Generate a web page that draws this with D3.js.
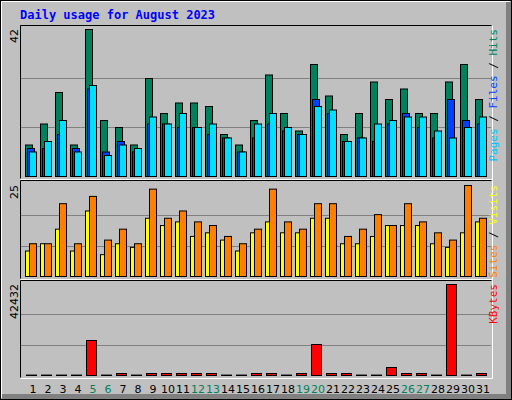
<!DOCTYPE html>
<html><head><meta charset="utf-8">
<script src="https://cdn.jsdelivr.net/npm/d3@7"></script>
<style>body{margin:0;background:#fff}</style></head>
<body><svg id="c" width="512" height="400"></svg>
<script>
const days = d3.range(1,32);
const weekend = [5,6,12,13,19,20,26,27];
const hits  = [9,15,24,9,42,16,14,9,28,18,21,21,20,12,9,16,29,18,13,32,23,12,18,27,22,25,18,18,27,32,22];
const files = [8,8,12,8,25,7,10,7,15,15,14,14,12,11,7,11,15,13,12,22,18,10,11,10,15,18,14,11,22,16,15];
const pages = [7,10,16,7,26,6,9,8,17,15,18,14,15,11,7,15,18,14,12,20,19,10,11,15,16,17,17,13,11,14,17];
const sites = [7,9,13,7,18,6,9,8,16,14,15,11,12,10,7,12,15,12,12,16,16,9,9,11,14,14,14,9,8,12,15];
const visits= [9,9,20,9,22,10,13,9,24,16,18,15,14,11,9,13,24,15,13,20,20,11,13,17,14,20,15,12,10,25,16];
const kbytes= [200,200,200,200,16320,200,930,200,930,930,930,930,930,200,200,930,930,200,930,14455,930,930,200,200,3730,930,930,200,42432,200,930];
const maxTop=42, maxMid=25, maxKb=42432;

const svg=d3.select("#c");
svg.append("rect").attr("x",0).attr("y",0).attr("width",512).attr("height",400).attr("fill","#c0c0c0");
svg.append("rect").attr("x",0.5).attr("y",0.5).attr("width",511).attr("height",399).attr("fill","none").attr("stroke","#000");
svg.append("path").attr("d","M1.5,397.5V1.5H509.5").attr("fill","none").attr("stroke","#fff");
svg.append("path").attr("d","M2,396.5H508.5V2").attr("fill","none").attr("stroke","#808080").attr("stroke-width",5);
svg.append("rect").attr("x",0.5).attr("y",0.5).attr("width",511).attr("height",399).attr("fill","none").attr("stroke","#000");

svg.append("text").attr("x",20).attr("y",19).text("Daily usage for August 2023")
  .attr("font-family","'DejaVu Sans Mono','Liberation Mono',monospace").attr("font-weight","bold")
  .attr("font-size",12).attr("fill","#0000ff");

const x=d3.scaleLinear().domain([1,32]).range([25,490]);
function panel(y0,y1){
  svg.append("rect").attr("x",20).attr("y",y0).attr("width",471).attr("height",y1-y0).attr("fill","#c0c0c0");
  svg.append("path").attr("d",`M20.5,${y1+0.5}V${y0+0.5}H491.5`).attr("stroke","#000").attr("fill","none");
  svg.append("path").attr("d",`M20.5,${y1+1.5}H492.5V${y0+0.5}`).attr("stroke","#fff").attr("fill","none");
}
function grid(y,base,top){
  [1/3,2/3].forEach(f=>{const yy=Math.round(base-(base-top)*f)+0.5;
    svg.append("line").attr("x1",21).attr("x2",491).attr("y1",yy).attr("y2",yy).attr("stroke","#808080");});
}
function bars(data,scale,dx,w,color){
  svg.append("g").selectAll("rect").data(data).join("rect")
    .attr("x",(d,i)=>x(i+1)+dx+0.5).attr("width",w)
    .attr("y",d=>scale(d)+0.5).attr("height",d=>Math.max(0,scale(0)-scale(d)))
    .attr("fill",color).attr("stroke","#000");
}
function leftLabel(txt,y){
  svg.append("text").attr("transform",`translate(18,${y}) rotate(-90)`).attr("text-anchor","end")
   .attr("font-family","'DejaVu Sans',sans-serif").attr("font-size",11).attr("fill","#000").text(txt);
}
function rightLabel(parts,y){
  const t=svg.append("text").attr("transform",`translate(496,${y}) rotate(90)`).attr("text-anchor","end")
   .attr("font-family","'DejaVu Sans Mono',monospace").attr("font-size",11);
  parts.forEach(p=>t.append("tspan").attr("fill",p[1]).text(p[0]));
  t.attr("transform",`translate(497,${y}) rotate(-90)`);
}

// top
panel(25,178);
const yT=d3.scaleLinear().domain([0,maxTop]).range([176,29]);
grid(0,176,29);
bars(hits,yT,0,7,"#00805c");
bars(files,yT,2,7,"#0040ff");
bars(pages,yT,4,7,"#00e0ff");
leftLabel("42",29);
rightLabel([["Pages","#00c0ff"],[" / ","#000"],["Files","#0040ff"],[" / ","#000"],["Hits","#00805c"]],29);

// middle
panel(180,278);
const yM=d3.scaleLinear().domain([0,maxMid]).range([276,185]);
grid(0,276,185);
bars(sites,yM,0,4,"#ffff00");
bars(visits,yM,4,7,"#ff8000");
leftLabel("25",185);
rightLabel([["Sites","#ff8000"],[" / ","#000"],["Visits","#ffff00"]],185);

// bottom
panel(280,377);
const yB=d3.scaleLinear().domain([0,maxKb]).range([375,284]);
grid(0,375,284);
bars(kbytes,yB,1,10,"#ff0000");
leftLabel("42432",284);
rightLabel([["KBytes","#ff0000"]],284);

svg.append("g").selectAll("text").data(days).join("text")
  .attr("x",d=>x(d)+8).attr("y",393).attr("text-anchor","middle")
  .attr("font-family","'DejaVu Sans',sans-serif").attr("font-size",11)
  .attr("fill",d=>weekend.includes(d)?"#00805c":"#000").text(d=>d);
</script></body></html>
